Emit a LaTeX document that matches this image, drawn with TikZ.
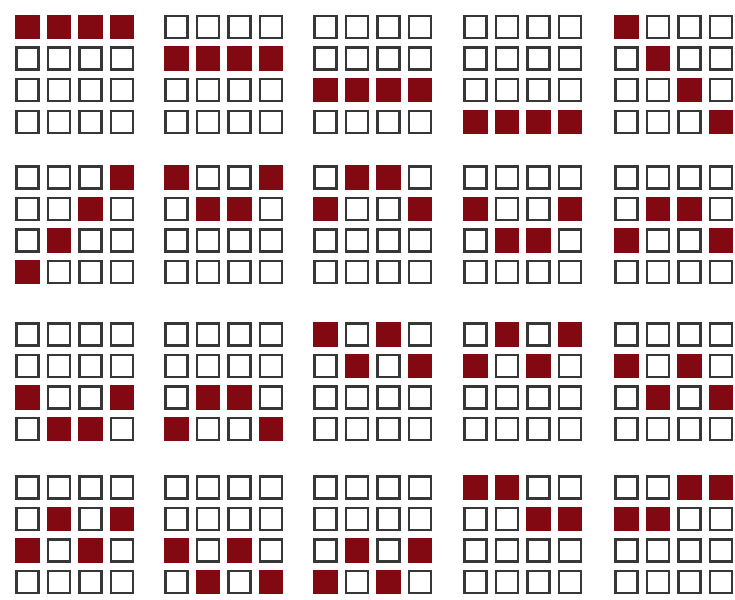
\documentclass[tikz,border=0pt]{standalone}
\definecolor{cellred}{RGB}{130,8,18}
\definecolor{cellgray}{RGB}{55,55,55}
\tikzset{
  emptycell/.style={rectangle, draw=cellgray, line width=2.5pt, fill=white, minimum size=22pt, inner sep=0pt},
  filledcell/.style={rectangle, fill=cellred, minimum size=24.5pt, inner sep=0pt}
}
\newcommand{\patgrid}[4]{%
  \foreach \rr in {0,...,3}{%
    \foreach \cc in {0,...,3}{%
      \pgfmathtruncatemacro\idx{4*\rr+\cc}%
      \pgfmathtruncatemacro\val{{#4}[\idx]}%
      \ifnum\val=1
        \node[filledcell] (#1-\rr-\cc) at ({#2+\cc*31.5+12.25},{#3+\rr*31.5+12.25}) {};
      \else
        \node[emptycell] (#1-\rr-\cc) at ({#2+\cc*31.5+12.25},{#3+\rr*31.5+12.25}) {};
      \fi
    }%
  }%
}
\begin{document}
\begin{tikzpicture}[x=1pt,y=-1pt]
\fill[white] (0,0) rectangle (735,599);
\useasboundingbox (0,0) rectangle (735,599);
% row 1
\patgrid{g1}{15}{15}{1,1,1,1,0,0,0,0,0,0,0,0,0,0,0,0}
\patgrid{g2}{164}{15}{0,0,0,0,1,1,1,1,0,0,0,0,0,0,0,0}
\patgrid{g3}{313}{15}{0,0,0,0,0,0,0,0,1,1,1,1,0,0,0,0}
\patgrid{g4}{463}{15}{0,0,0,0,0,0,0,0,0,0,0,0,1,1,1,1}
\patgrid{g5}{614}{15}{1,0,0,0,0,1,0,0,0,0,1,0,0,0,0,1}
% row 2
\patgrid{g6}{15}{165}{0,0,0,1,0,0,1,0,0,1,0,0,1,0,0,0}
\patgrid{g7}{164}{165}{1,0,0,1,0,1,1,0,0,0,0,0,0,0,0,0}
\patgrid{g8}{313}{165}{0,1,1,0,1,0,0,1,0,0,0,0,0,0,0,0}
\patgrid{g9}{463}{165}{0,0,0,0,1,0,0,1,0,1,1,0,0,0,0,0}
\patgrid{g10}{614}{165}{0,0,0,0,0,1,1,0,1,0,0,1,0,0,0,0}
% row 3
\patgrid{g11}{15}{322}{0,0,0,0,0,0,0,0,1,0,0,1,0,1,1,0}
\patgrid{g12}{164}{322}{0,0,0,0,0,0,0,0,0,1,1,0,1,0,0,1}
\patgrid{g13}{313}{322}{1,0,1,0,0,1,0,1,0,0,0,0,0,0,0,0}
\patgrid{g14}{463}{322}{0,1,0,1,1,0,1,0,0,0,0,0,0,0,0,0}
\patgrid{g15}{614}{322}{0,0,0,0,1,0,1,0,0,1,0,1,0,0,0,0}
% row 4
\patgrid{g16}{15}{475}{0,0,0,0,0,1,0,1,1,0,1,0,0,0,0,0}
\patgrid{g17}{164}{475}{0,0,0,0,0,0,0,0,1,0,1,0,0,1,0,1}
\patgrid{g18}{313}{475}{0,0,0,0,0,0,0,0,0,1,0,1,1,0,1,0}
\patgrid{g19}{463}{475}{1,1,0,0,0,0,1,1,0,0,0,0,0,0,0,0}
\patgrid{g20}{614}{475}{0,0,1,1,1,1,0,0,0,0,0,0,0,0,0,0}
\end{tikzpicture}
\end{document}
